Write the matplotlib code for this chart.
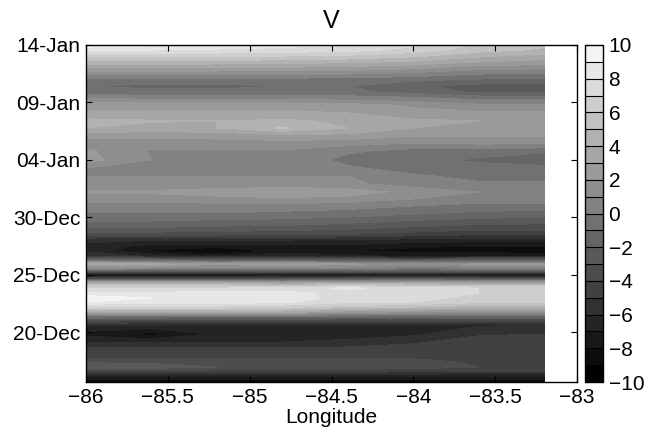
import numpy as np
import matplotlib
matplotlib.use("Agg")
import matplotlib.pyplot as plt

plt.rcParams["font.family"] = ["Liberation Sans", "DejaVu Sans"]
plt.rcParams["font.size"] = 15

# longitude grid (deg)
lon = [-86.0, -85.6, -85.2, -84.8, -84.4, -84.0, -83.6, -83.2]

# time grid, in days counted from 30-Nov (so 25 = 25-Dec, 45 = 14-Jan)
day = [45.00, 44.56, 44.04, 43.52, 43.00, 42.47, 41.95, 41.43, 40.91, 40.38,
       39.77, 39.08, 38.38, 37.77, 37.16, 36.46, 35.77, 34.98, 34.29, 33.59,
       32.89, 32.20, 31.59, 30.98, 30.37, 29.67, 29.06, 28.54, 28.01, 27.49,
       27.06, 26.62, 26.27, 25.92, 25.58, 25.23, 24.97, 24.62, 24.27, 23.83,
       23.40, 22.96, 22.61, 22.18, 21.74, 21.39, 21.05, 20.61, 19.83, 19.13,
       18.43, 17.82, 17.39, 16.95, 16.60, 16.25, 15.91, 15.65]

# V values, one row per time, one column per longitude
V = [
    [9.6, 9.2, 8.8, 8.4, 8.0, 7.2, 5.8, 5.2],
    [8.2, 8.0, 7.8, 7.6, 7.4, 6.6, 5.4, 4.8],
    [6.2, 6.2, 6.2, 6.0, 5.8, 5.2, 4.2, 3.6],
    [4.6, 4.6, 4.6, 4.4, 4.2, 3.8, 3.0, 2.6],
    [3.0, 3.0, 2.8, 2.8, 2.6, 2.2, 1.4, 1.2],
    [1.2, 1.2, 1.2, 1.1, 1.0, 0.6, 0.0, -0.2],
    [-0.4, -0.5, -0.5, -0.5, -0.6, -0.8, -1.2, -1.3],
    [-1.0, -1.2, -1.2, -1.0, -1.0, -1.8, -2.4, -2.4],
    [-0.6, -0.8, -0.8, -0.7, -0.7, -1.4, -2.2, -2.2],
    [1.0, 0.6, 0.6, 0.6, 0.4, 0.2, -0.4, -0.4],
    [2.6, 2.6, 2.6, 2.6, 2.4, 1.8, 1.2, 1.2],
    [3.2, 3.2, 3.2, 3.2, 3.0, 2.4, 2.2, 2.2],
    [4.3, 4.1, 4.0, 4.2, 3.8, 3.2, 3.0, 3.0],
    [4.0, 3.6, 4.0, 5.1, 4.0, 3.0, 3.0, 3.0],
    [2.6, 2.4, 2.4, 2.8, 2.8, 2.2, 2.2, 2.2],
    [1.4, 1.4, 1.6, 1.6, 1.4, 1.0, 1.2, 1.2],
    [2.2, 0.9, 0.9, 0.9, 0.2, -0.4, -0.4, -0.8],
    [2.4, 1.0, 1.0, 1.0, -0.4, -0.6, -1.2, -1.8],
    [1.0, 1.0, 1.0, 1.0, 0.2, -0.6, -0.6, -0.6],
    [1.0, 1.0, 1.0, 1.0, 1.0, 0.2, -0.4, -0.4],
    [1.2, 1.2, 1.2, 1.4, 1.2, 0.6, 0.2, 0.2],
    [2.2, 2.2, 2.6, 2.8, 2.6, 1.6, 1.0, 1.0],
    [1.4, 1.4, 1.6, 1.8, 1.6, 1.0, 0.6, 0.6],
    [0.6, 0.6, 0.6, 0.6, 0.4, 0.0, -0.4, -0.4],
    [0.0, 0.0, 0.0, -0.2, -0.4, -0.8, -1.2, -1.3],
    [-1.0, -1.0, -1.2, -1.3, -1.6, -2.1, -2.4, -2.6],
    [-2.0, -2.1, -2.3, -2.4, -2.8, -3.2, -3.6, -3.6],
    [-3.4, -3.4, -3.6, -3.7, -3.9, -4.4, -4.8, -4.8],
    [-5.8, -6.0, -6.0, -6.0, -6.2, -6.4, -6.6, -6.6],
    [-6.2, -7.4, -7.4, -7.4, -7.2, -7.9, -8.0, -8.0],
    [-6.2, -8.2, -9.4, -7.6, -8.0, -8.2, -8.4, -9.2],
    [-5.0, -6.2, -7.0, -6.2, -6.6, -7.4, -7.0, -7.0],
    [-1.0, -1.8, -2.2, -2.2, -2.6, -3.0, -2.6, -2.6],
    [3.4, 3.4, 2.2, 3.0, 2.2, 1.4, 2.2, 2.2],
    [1.4, 1.0, 0.6, 0.6, 0.6, -0.2, 0.2, 0.2],
    [-3.4, -3.4, -3.4, -3.4, -3.4, -3.8, -3.8, -3.8],
    [-8.6, -8.6, -8.6, -8.2, -8.2, -8.2, -8.2, -8.2],
    [-3.0, -3.0, -3.0, -3.0, -2.6, -2.2, -2.6, -2.6],
    [3.8, 3.8, 3.8, 3.0, 3.4, 3.4, 3.0, 3.0],
    [7.0, 7.0, 7.0, 7.4, 8.2, 7.4, 7.0, 7.0],
    [8.2, 8.2, 8.4, 8.4, 7.6, 7.4, 7.0, 7.0],
    [9.8, 9.0, 9.0, 8.8, 7.4, 7.4, 6.6, 6.6],
    [9.0, 8.6, 8.6, 8.2, 7.2, 7.0, 6.2, 6.2],
    [6.6, 6.6, 6.6, 6.2, 5.4, 5.0, 4.4, 4.4],
    [3.8, 3.8, 3.8, 3.4, 2.2, 1.8, 1.4, 1.4],
    [-0.2, -0.4, -0.6, -0.8, -1.0, -1.2, -1.2, -1.2],
    [-3.4, -3.6, -3.7, -3.7, -3.7, -3.7, -3.7, -3.7],
    [-6.0, -6.0, -6.1, -6.1, -6.1, -6.1, -6.1, -6.1],
    [-7.4, -8.4, -6.8, -6.4, -6.4, -6.2, -5.2, -5.0],
    [-6.0, -6.0, -6.0, -6.0, -5.8, -5.2, -4.3, -4.3],
    [-4.6, -4.6, -4.6, -4.6, -4.5, -4.3, -4.2, -4.2],
    [-4.3, -4.2, -4.3, -4.2, -4.2, -4.2, -4.2, -4.2],
    [-3.2, -3.2, -3.2, -3.3, -3.4, -3.6, -4.2, -4.3],
    [-2.0, -2.4, -3.0, -3.2, -3.3, -3.6, -4.0, -4.2],
    [-4.2, -4.3, -4.4, -4.4, -4.5, -4.6, -4.8, -4.8],
    [-6.5, -6.5, -6.5, -6.5, -6.5, -6.5, -6.5, -6.5],
    [-8.0, -8.0, -8.0, -8.0, -8.0, -8.0, -8.0, -8.0],
    [-8.8, -8.8, -8.8, -8.8, -8.8, -8.8, -8.8, -8.8],
]

date_ticks = [20, 25, 30, 35, 40, 45]
date_labels = ["20-Dec", "25-Dec", "30-Dec", "04-Jan", "09-Jan", "14-Jan"]
lon_ticks = [-86, -85.5, -85, -84.5, -84, -83.5, -83]

levels = np.arange(-10, 11, 1)
# matlab gray(64) sampled on 20 bands
grays = [str(np.floor(k * 64 / 20) / 63) for k in range(20)]

fig = plt.figure(figsize=(6.47, 4.29), dpi=100)
ax = fig.add_axes([86 / 647, 1 - 382 / 429, 491 / 647, 337 / 429])
cax = fig.add_axes([585 / 647, 1 - 382 / 429, 18 / 647, 337 / 429])

X, Y = np.meshgrid(lon, day)
cf = ax.contourf(X, Y, np.array(V), levels=levels, colors=grays)

ax.set_xlim(-86, -83)
ax.set_ylim(day[-1], day[0])
ax.set_xticks(lon_ticks)
ax.set_xticklabels(["\u221286", "\u221285.5", "\u221285", "\u221284.5",
                    "\u221284", "\u221283.5", "\u221283"])
ax.set_yticks(date_ticks)
ax.set_yticklabels(date_labels)
ax.tick_params(direction="in", top=True, right=True, length=4, width=0.8, pad=4)
for s in ax.spines.values():
    s.set_linewidth(1.0)
ax.set_xlabel("Longitude", labelpad=1)
ax.set_title("V", pad=12)

cb = fig.colorbar(cf, cax=cax, drawedges=True)
cb.set_ticks(np.arange(-10, 11, 2))
cb.dividers.set_color("k")
cb.dividers.set_linewidth(0.8)
cb.outline.set_linewidth(1.0)
cax.tick_params(direction="in", left=True, right=True, length=3, width=0.8, pad=4)

fig.savefig("out.png", dpi=100)
